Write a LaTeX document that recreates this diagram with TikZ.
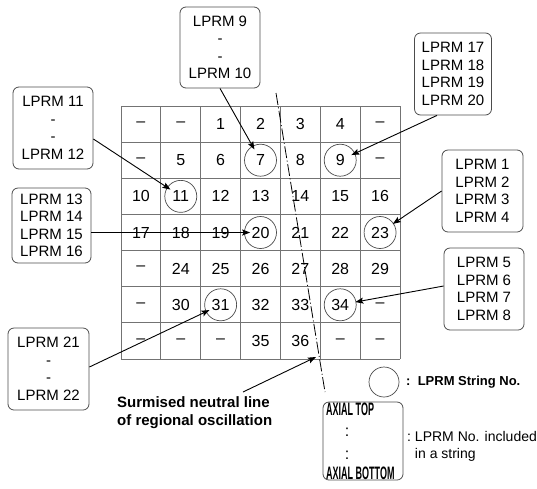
\documentclass[tikz,border=0pt]{standalone}
\usepackage{fontspec}
\setmainfont{Liberation Sans}
\usepackage{graphicx}
\usetikzlibrary{arrows.meta,calc}
\begin{document}
\begin{tikzpicture}[x=1pt,y=-1pt,
  gridline/.style={draw=black!55, line width=0.8pt},
  cellnum/.style={font=\fontsize{16}{18}\selectfont, inner sep=0pt},
  ring/.style={draw=black!70, line width=0.7pt, circle, minimum size=32pt, inner sep=0pt},
  lbox/.style={draw=black!70, line width=0.8pt, rounded corners=6pt, align=center,
    font=\fontsize{15}{17.5}\selectfont, inner sep=0pt, minimum width=80pt, minimum height=82pt},
  arr/.style={-{Stealth[length=8pt,width=6pt,inset=1.5pt]}, line width=0.9pt},
  intoring/.style={shorten >=-4pt},
  nline/.style={line width=0.8pt, dash pattern=on 12pt off 2.5pt on 1pt off 2.5pt},
  legtxt/.style={font=\fontsize{14}{17}\selectfont, inner sep=0pt, align=left}
]
\useasboundingbox (0,0) rectangle (537,488);

% grid
\foreach \i in {0,...,7} {
  \draw[gridline] ({121+\i*39.857},106) -- ({121+\i*39.857},359);
  \draw[gridline] (121,{106+\i*36.143}) -- (400,{106+\i*36.143});
}
\foreach \r/\rowlist in {1/{–,–,1,2,3,4,–},2/{–,5,6,7,8,9,–},3/{10,11,12,13,14,15,16},4/{17,18,19,20,21,22,23},5/{–,24,25,26,27,28,29},6/{–,30,31,32,33,34,–},7/{–,–,–,35,36,–,–}} {
  \foreach \v [count=\c] in \rowlist {
    \node[cellnum] (cell-\r-\c) at ({121+(\c-0.5)*39.857},{106+(\r-0.5)*36.143}) {\v};
  }
}

% string rings
\node[ring] (s7)  at (cell-2-4) {};
\node[ring] (s9)  at (cell-2-6) {};
\node[ring] (s11) at (cell-3-2) {};
\node[ring] (s20) at (cell-4-4) {};
\node[ring] (s23) at (cell-4-7) {};
\node[ring] (s31) at (cell-6-3) {};
\node[ring] (s34) at (cell-6-6) {};

% neutral line
\coordinate (nlA) at (276,93);
\coordinate (nlB) at (325,392);
\draw[nline] (nlA) -- (nlB);
\coordinate (nlpt) at (316,357);

% LPRM boxes
\node[lbox, minimum height=81pt] (b910) at (220,47.5) {LPRM 9\\-\\-\\LPRM 10};
\node[lbox, minimum width=77pt] (b1720) at (453,74) {LPRM 17\\LPRM 18\\LPRM 19\\LPRM 20};
\node[lbox] (b11) at (53,128) {LPRM 11\\-\\-\\LPRM 12};
\node[lbox, minimum width=79pt, minimum height=75pt] (b1316) at (51.5,225.5) {LPRM 13\\LPRM 14\\LPRM 15\\LPRM 16};
\node[lbox, minimum width=81pt] (b14) at (482.5,191) {LPRM 1\\LPRM 2\\LPRM 3\\LPRM 4};
\node[lbox] (b58) at (484,289) {LPRM 5\\LPRM 6\\LPRM 7\\LPRM 8};
\node[lbox, minimum width=81pt] (b2122) at (48.5,369) {LPRM 21\\-\\-\\LPRM 22};

% arrows
\draw[arr, intoring] (b910.south) -- (s7);
\draw[arr, intoring] ([xshift=-16pt]b1720.south) -- (s9);
\draw[arr, intoring] ([yshift=-11pt]b11.east) -- (s11);
\draw[arr, shorten >=-6pt] (b1316.east |- s20.center) -- (s20);
\draw[arr, shorten >=-1pt] (b14.west) -- (s23);
\draw[arr, shorten >=-1pt] ([yshift=3pt]b58.west) -- (s34);
\draw[arr, intoring] ([yshift=2pt]b2122.east) -- (s31);

% neutral line label
\node[anchor=north west, inner sep=0pt, align=left, font=\fontsize{15}{18}\selectfont\bfseries] (sur) at (117,396) {Surmised neutral line\\of regional oscillation};
\draw[arr] ([xshift=126pt,yshift=4pt]sur.north west) -- (nlpt);

% legend
\node[ring, minimum size=30pt] (legring) at (384,382) {};
\node[legtxt, anchor=west, font=\fontsize{13}{16}\selectfont\bfseries] (legringtxt) at (406,382) {:\ \ LPRM String No.};
\node[draw=black!70, line width=0.8pt, rounded corners=6pt, minimum width=80pt, minimum height=78pt, inner sep=0pt] (axbox) at (363,441) {};
\node[anchor=west, inner sep=0pt, font=\fontsize{18}{20}\selectfont\bfseries] (axtop) at (326,409) {\scalebox{0.5}[1]{AXIAL TOP}};
\node[anchor=west, inner sep=0pt, font=\fontsize{18}{20}\selectfont\bfseries] (axbot) at (326,473) {\scalebox{0.5}[1]{AXIAL BOTTOM}};
\node[inner sep=0pt, align=center, font=\fontsize{16}{23}\selectfont] (axdots) at (347,444) {:\\:};
\node[legtxt, anchor=north west] (legaxtxt) at (407,431) {:~LPRM No. included\\\hphantom{:~}in a string};
\end{tikzpicture}
\end{document}
